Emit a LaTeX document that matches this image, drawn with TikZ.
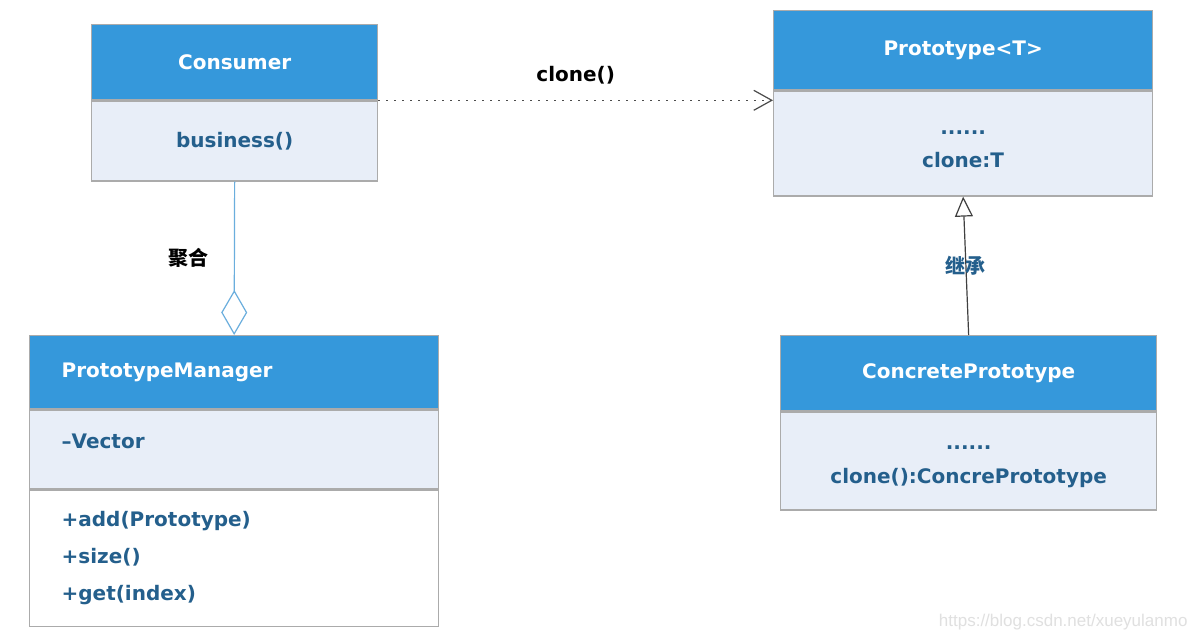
\documentclass[tikz,border=0pt]{standalone}
\usepackage{fontspec}
\setmainfont{DejaVu Sans}
\newfontfamily\cjk{Noto Sans CJK SC}
\newfontfamily\wmfont{Liberation Sans}
\usetikzlibrary{positioning, arrows.meta}

\definecolor{headblue}{HTML}{3598DB}
\definecolor{bodyblue}{HTML}{E8EEF8}
\definecolor{textblue}{HTML}{245F8C}
\definecolor{boxgray}{HTML}{ABABAB}
\definecolor{linkblue}{HTML}{6AAEDD}

\begin{document}
\begin{tikzpicture}[x=1pt,y=-1pt,node distance=0pt,
  every node/.style={font=\bfseries\fontsize{20}{33}\selectfont},
  head/.style={draw=boxgray, line width=1.3pt, fill=headblue, text=white, inner sep=0pt},
  body/.style={draw=boxgray, line width=1.3pt, fill=bodyblue, text=textblue, inner sep=0pt, align=center},
  leftbox/.style={align=left, text width=345pt, inner xsep=32pt, inner ysep=0pt}]
\useasboundingbox (0,0) rectangle (1198,640);
\fill[white] (0,0) rectangle (1198,640);

  % classes
  \node[head, anchor=north west, minimum width=286pt, minimum height=75pt] (cons-head) at (91,24) {Consumer};
  \node[body, minimum width=286pt, minimum height=80pt] (cons-body) [below=of cons-head] {business()};

  \node[head, anchor=north west, minimum width=379pt, minimum height=79pt] (proto-head) at (773,10) {Prototype<T>};
  \node[body, minimum width=379pt, minimum height=105pt] (proto-body) [below=of proto-head] {\rule{0pt}{15pt}......\\clone:T};

  \node[head, leftbox, anchor=north west, minimum height=73pt] (pm-head) at (29,335) {PrototypeManager};
  \node[body, leftbox, text height=39pt, text depth=40pt] (pm-attr) [below=of pm-head] {–Vector};
  \node[body, leftbox, fill=white, minimum height=136pt,
        font=\bfseries\fontsize{20}{37}\selectfont] (pm-ops) [below=of pm-attr] {+add(Prototype)\\+size()\\+get(index)};

  \node[head, anchor=north west, minimum width=376pt, minimum height=75pt] (cp-head) at (780,335) {ConcretePrototype};
  \node[body, minimum width=376pt, minimum height=98pt,
        font=\bfseries\fontsize{20}{34}\selectfont] (cp-body) [below=of cp-head] {\rule{0pt}{16pt}......\\clone():ConcrePrototype};

  % links
  \draw[draw=black!70, line width=1.5pt, dash pattern=on 1.5pt off 6.5pt, -{Straight Barb[length=18pt, width=20pt, line width=1.2pt]}]
    (cons-head.south east) -- (cons-head.south east -| proto-body.west)
    node[midway, above=12pt, text=black] {clone()};
  \draw[draw=linkblue, line width=1.2pt, -{Diamond[open, length=45pt, width=26pt]}]
    (cons-body.south) -- (pm-head.north)
    node[midway, left=22pt, text=black] {\cjk 聚合};
  \draw[draw=black!75, line width=1.2pt, -{Triangle[open, length=20pt, width=18pt]}]
    (cp-head.north) -- (proto-body.south)
    node[midway, text=textblue] {\cjk 继承};

  \node[font=\wmfont\fontsize{17}{17}\selectfont, text=black!12, anchor=east] (mark) at (1191,622) {https://blog.csdn.net/xueyulanmo};
\end{tikzpicture}
\end{document}
